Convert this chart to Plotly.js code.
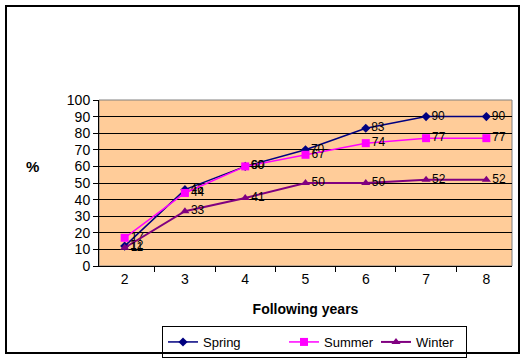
<!DOCTYPE html>
<html><head><meta charset="utf-8">
<script src="https://cdn.plot.ly/plotly-3.0.1.min.js"></script>
<style>
html,body{margin:0;padding:0;background:#fff;}
#wrap{position:relative;width:526px;height:361px;}
#chart{width:526px;height:361px;}
#frame{position:absolute;left:5px;top:5px;width:511px;height:345px;border:2px solid #000;pointer-events:none;}
</style></head>
<body><div id="wrap"><div id="chart"></div><div id="frame"></div></div>
<script>
const years = ["2","3","4","5","6","7","8"];
const spring = [12, 46, 60, 70, 83, 90, 90];
const summer = [17, 44, 60, 67, 74, 77, 77];
const winter = [11, 33, 41, 50, 50, 52, 52];
const yTicks = [0,10,20,30,40,50,60,70,80,90,100];

function tr(name, y, color, symbol, size, lw, lgw){
  return {x: years, y: y, name: name, type: 'scatter', mode: 'lines+markers+text',
    text: y.map(String), textposition: 'middle right',
    textfont: {family: 'Arial, Liberation Sans, sans-serif', size: 12, color: '#000'},
    line: {color: color, width: lw}, marker: {color: color, symbol: symbol, size: size},
    legendwidth: lgw, cliponaxis: false};
}
const data = [
  tr('Spring', spring, '#000080', 'diamond', 7, 1.5, 76),
  tr('Summer', summer, '#FF00FF', 'square', 8, 1.5, 47),
  tr('Winter', winter, '#800080', 'triangle-up', 8, 2, 45)
];
const layout = {
  width: 526, height: 361,
  margin: {l: 99, r: 14, t: 100, b: 95},
  paper_bgcolor: '#fff', plot_bgcolor: '#FFCC99',
  font: {family: 'Arial, Liberation Sans, sans-serif', size: 13, color: '#000'},
  xaxis: {type: 'category', tickson: 'boundaries', ticks: 'outside', ticklen: 5,
    tickcolor: '#000', showline: true, linecolor: '#000', linewidth: 1, mirror: false,
    showgrid: false, zeroline: false, tickfont: {size: 14}, automargin: false,
    title: {text: '<b>Following years</b>', font: {size: 14}, standoff: 18}},
  yaxis: {range: [0, 100], tickvals: yTicks, ticks: 'outside', ticklen: 5, tickcolor: '#000',
    showline: true, linecolor: '#000', linewidth: 1, showgrid: true, gridcolor: '#000',
    gridwidth: 1, zeroline: false, tickfont: {size: 14}, automargin: false},
  annotations: [
    {text: '<b>%</b>', xref: 'paper', yref: 'paper', x: -0.16, y: 0.6, xanchor: 'center',
     yanchor: 'middle', showarrow: false, font: {size: 15}}
  ],
  shapes: [
    {type: 'rect', xref: 'paper', yref: 'paper', x0: 0, x1: 1, y0: 0, y1: 1,
     line: {color: '#808080', width: 1}, layer: 'below'}
  ],
  showlegend: true,
  legend: {orientation: 'h', xref: 'container', yref: 'container', x: 0.308, xanchor: 'left',
    y: 0.097, yanchor: 'top',
    bordercolor: '#000', borderwidth: 1, bgcolor: '#fff', font: {size: 13},
    traceorder: 'normal'}
};
Plotly.newPlot('chart', data, layout, {displayModeBar: false, staticPlot: true});
</script></body></html>
